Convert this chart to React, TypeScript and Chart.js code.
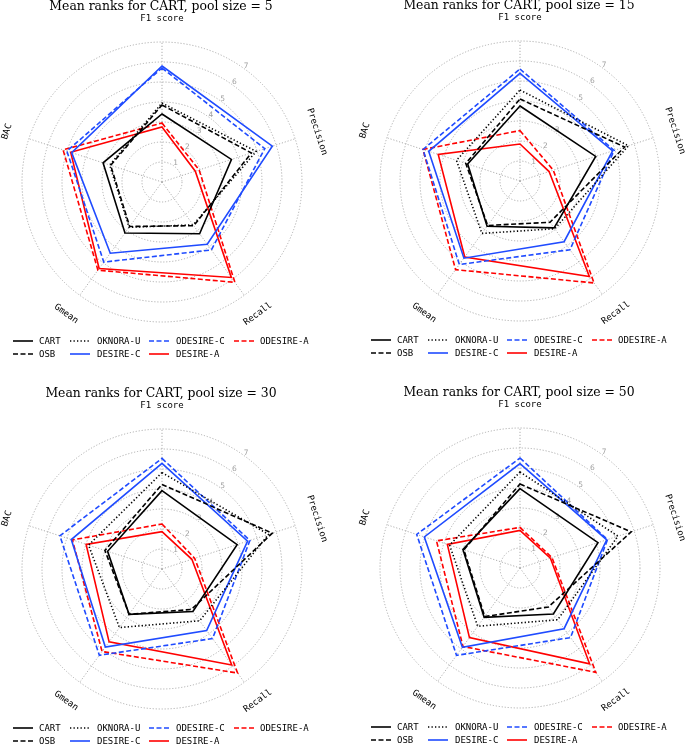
import React, { useEffect, useRef } from "react";
import { Chart, registerables } from "chart.js";

Chart.register(...registerables);

// ---- data ----
const metricLabels = ["F1 score", "Precision", "Recall", "Gmean", "BAC"];
const poolSizes = [5, 15, 30, 50];
const methodNames = ["CART", "OSB", "OKNORA-U", "DESIRE-C", "ODESIRE-C", "DESIRE-A", "ODESIRE-A"];
const tickValues = [1, 2, 3, 4, 5, 6, 7];

// one row per pool size (5, 15, 30, 50); values in metricLabels order
const cartRanks = [
  [3.4, 3.65, 3.2, 3.15, 3.1],
  [3.75, 3.98, 2.9, 2.8, 2.75],
  [3.92, 3.95, 2.63, 2.8, 2.86],
  [3.97, 4.1, 2.84, 3.05, 3.0],
];
const osbRanks = [
  [3.85, 4.7, 2.7, 2.75, 2.7],
  [4.1, 5.5, 2.55, 2.75, 2.85],
  [4.23, 5.8, 2.5, 2.8, 3.0],
  [4.2, 5.85, 2.41, 3.0, 2.95],
];
const oknoraRanks = [
  [3.95, 4.95, 2.65, 2.8, 2.75],
  [4.55, 5.7, 2.95, 3.24, 3.34],
  [4.82, 5.6, 3.2, 3.62, 3.86],
  [4.8, 5.15, 3.2, 3.6, 3.7],
];
const desireCRanks = [
  [5.8, 5.8, 3.85, 4.4, 4.75],
  [5.38, 4.87, 3.75, 4.77, 4.8],
  [5.28, 4.5, 3.8, 4.82, 4.77],
  [5.22, 4.56, 3.75, 4.9, 5.03],
];
const odesireCRanks = [
  [5.7, 5.4, 4.2, 4.95, 5.0],
  [5.6, 4.95, 4.25, 5.16, 5.1],
  [5.53, 4.62, 4.3, 5.33, 5.37],
  [5.5, 4.6, 4.3, 5.4, 5.43],
];
const desireARanks = [
  [2.75, 1.75, 5.9, 5.35, 4.8],
  [1.85, 1.53, 5.9, 4.7, 4.3],
  [1.87, 1.57, 5.93, 4.5, 3.99],
  [1.88, 1.6, 5.92, 4.3, 3.82],
];
const odesireARanks = [
  [2.95, 1.95, 6.2, 5.45, 5.2],
  [2.52, 1.75, 6.3, 5.48, 5.1],
  [2.25, 1.72, 6.43, 5.1, 4.71],
  [2.03, 1.68, 6.45, 4.85, 4.39],
];

const methodRanks = [cartRanks, osbRanks, oknoraRanks, desireCRanks, odesireCRanks, desireARanks, odesireARanks];

// ---- styles ----
const BLACK = "#000000";
const BLUE = "#1f4bff";
const RED = "#ff0000";
const SOLID: number[] = [];
const DASHED = [5, 2.5];
const DOTTED = [1.3, 2.2];
const methodStyles = [
  { color: BLACK, dash: SOLID },
  { color: BLACK, dash: DASHED },
  { color: BLACK, dash: DOTTED },
  { color: BLUE, dash: SOLID },
  { color: BLUE, dash: DASHED },
  { color: RED, dash: SOLID },
  { color: RED, dash: DASHED },
];

// panel placement: [left, top, width, height, centerX, centerY]
const panels = [
  [0, 0, 342, 372, 162, 182],
  [342, 0, 343, 372, 520, 181],
  [0, 372, 342, 373, 162, 569],
  [342, 372, 343, 373, 520, 568],
];
const RADIUS = 140;
const GRID_COLOR = "#adadad";

const decorPlugin = {
  id: "decor",
  beforeDatasetsDraw(chart: any) {
    const scale = chart.scales.r;
    const ctx = chart.ctx;
    ctx.save();
    ctx.fillStyle = "#a0a0a0";
    ctx.font = '7.5px "DejaVu Sans"';
    ctx.textAlign = "center";
    ctx.textBaseline = "middle";
    const a = (36 * Math.PI) / 180;
    for (const v of tickValues) {
      const d = scale.getDistanceFromCenterForValue(v) + 3;
      ctx.fillText(String(v), scale.xCenter + Math.sin(a) * d, scale.yCenter - Math.cos(a) * d);
    }
    ctx.restore();
  },
  afterDraw(chart: any, _args: any, opts: any) {
    const scale = chart.scales.r;
    const ctx = chart.ctx;
    const cx = scale.xCenter;
    const cy = scale.yCenter;
    ctx.save();
    // title
    ctx.fillStyle = "#000";
    ctx.font = '12.4px "DejaVu Serif"';
    ctx.textAlign = "center";
    ctx.textBaseline = "alphabetic";
    ctx.fillText(opts.title, cx - 1, cy - 172.5);

    // rotated axis labels
    ctx.font = '9px "DejaVu Sans Mono"';
    ctx.textBaseline = "middle";
    const labels = chart.data.labels;
    for (let i = 0; i < labels.length; i++) {
      const p = scale.getPointPosition(i, 163);
      const deg = (i * 360) / labels.length;
      let rot = deg;
      if (deg > 90 && deg < 270) rot = deg - 180;
      else if (deg >= 270) rot = deg - 360;
      ctx.save();
      ctx.translate(p.x, p.y);
      ctx.rotate((rot * Math.PI) / 180);
      ctx.fillText(labels[i], 0, 0);
      ctx.restore();
    }

    // legend (column-major, 2 rows)
    const lineStarts = [-149, -92, -13, 72];
    const textStarts = [-123, -65, 14, 98];
    const rowYs = [159, 172];
    ctx.textAlign = "left";
    chart.data.datasets.forEach((ds: any, k: number) => {
      const col = Math.floor(k / 2);
      const row = k % 2;
      const y = cy + rowYs[row];
      const x0 = cx + lineStarts[col];
      ctx.save();
      ctx.strokeStyle = ds.borderColor;
      ctx.lineWidth = 1.6;
      ctx.setLineDash(ds.borderDash || []);
      ctx.beginPath();
      ctx.moveTo(x0, y);
      ctx.lineTo(x0 + 20, y);
      ctx.stroke();
      ctx.restore();
      ctx.fillStyle = "#000";
      ctx.fillText(ds.label, cx + textStarts[col], y + 0.5);
    });
    ctx.restore();
  },
};

function RadarPanel({ index }: { index: number }) {
  const ref = useRef<HTMLCanvasElement>(null);
  const [left, top, w, h, cxAbs, cyAbs] = panels[index];
  useEffect(() => {
    const canvas = ref.current;
    if (!canvas) return;
    const padLeft = cxAbs - left - RADIUS;
    const padTop = cyAbs - top - RADIUS;
    const padRight = w - padLeft - 2 * RADIUS;
    const padBottom = h - padTop - 2 * RADIUS;
    const chart = new Chart(canvas, {
      type: "radar",
      data: {
        labels: metricLabels,
        datasets: methodNames.map((name, m) => ({
          label: name,
          data: methodRanks[m][index],
          borderColor: methodStyles[m].color,
          backgroundColor: "rgba(0,0,0,0)",
          borderDash: methodStyles[m].dash,
          borderWidth: 1.6,
          fill: false,
          pointRadius: 0,
          pointHoverRadius: 0,
          tension: 0,
        })),
      },
      options: {
        responsive: false,
        animation: false,
        events: [],
        layout: { padding: { left: padLeft, top: padTop, right: padRight, bottom: padBottom } },
        plugins: {
          legend: { display: false },
          title: { display: false },
          tooltip: { enabled: false },
          decor: { title: `Mean ranks for CART, pool size = ${poolSizes[index]}` },
        } as any,
        scales: {
          r: {
            min: 0,
            max: 7,
            startAngle: 0,
            ticks: { display: false, stepSize: 1 },
            pointLabels: { display: false },
            grid: { circular: true, color: GRID_COLOR, lineWidth: 1 },
            border: { dash: [1.2, 1.8] },
            angleLines: { display: true, color: GRID_COLOR, lineWidth: 1, borderDash: [1.2, 1.8] },
          } as any,
        },
      },
      plugins: [decorPlugin],
    });
    return () => chart.destroy();
  }, [index]);
  return (
    <canvas
      ref={ref}
      width={w}
      height={h}
      style={{ position: "absolute", left, top, width: w, height: h }}
    />
  );
}

export default function App() {
  return (
    <div style={{ position: "absolute", left: 0, top: 0, width: 685, height: 745, background: "#fff", overflow: "hidden" }}>
      {poolSizes.map((_, i) => (
        <RadarPanel key={i} index={i} />
      ))}
    </div>
  );
}
